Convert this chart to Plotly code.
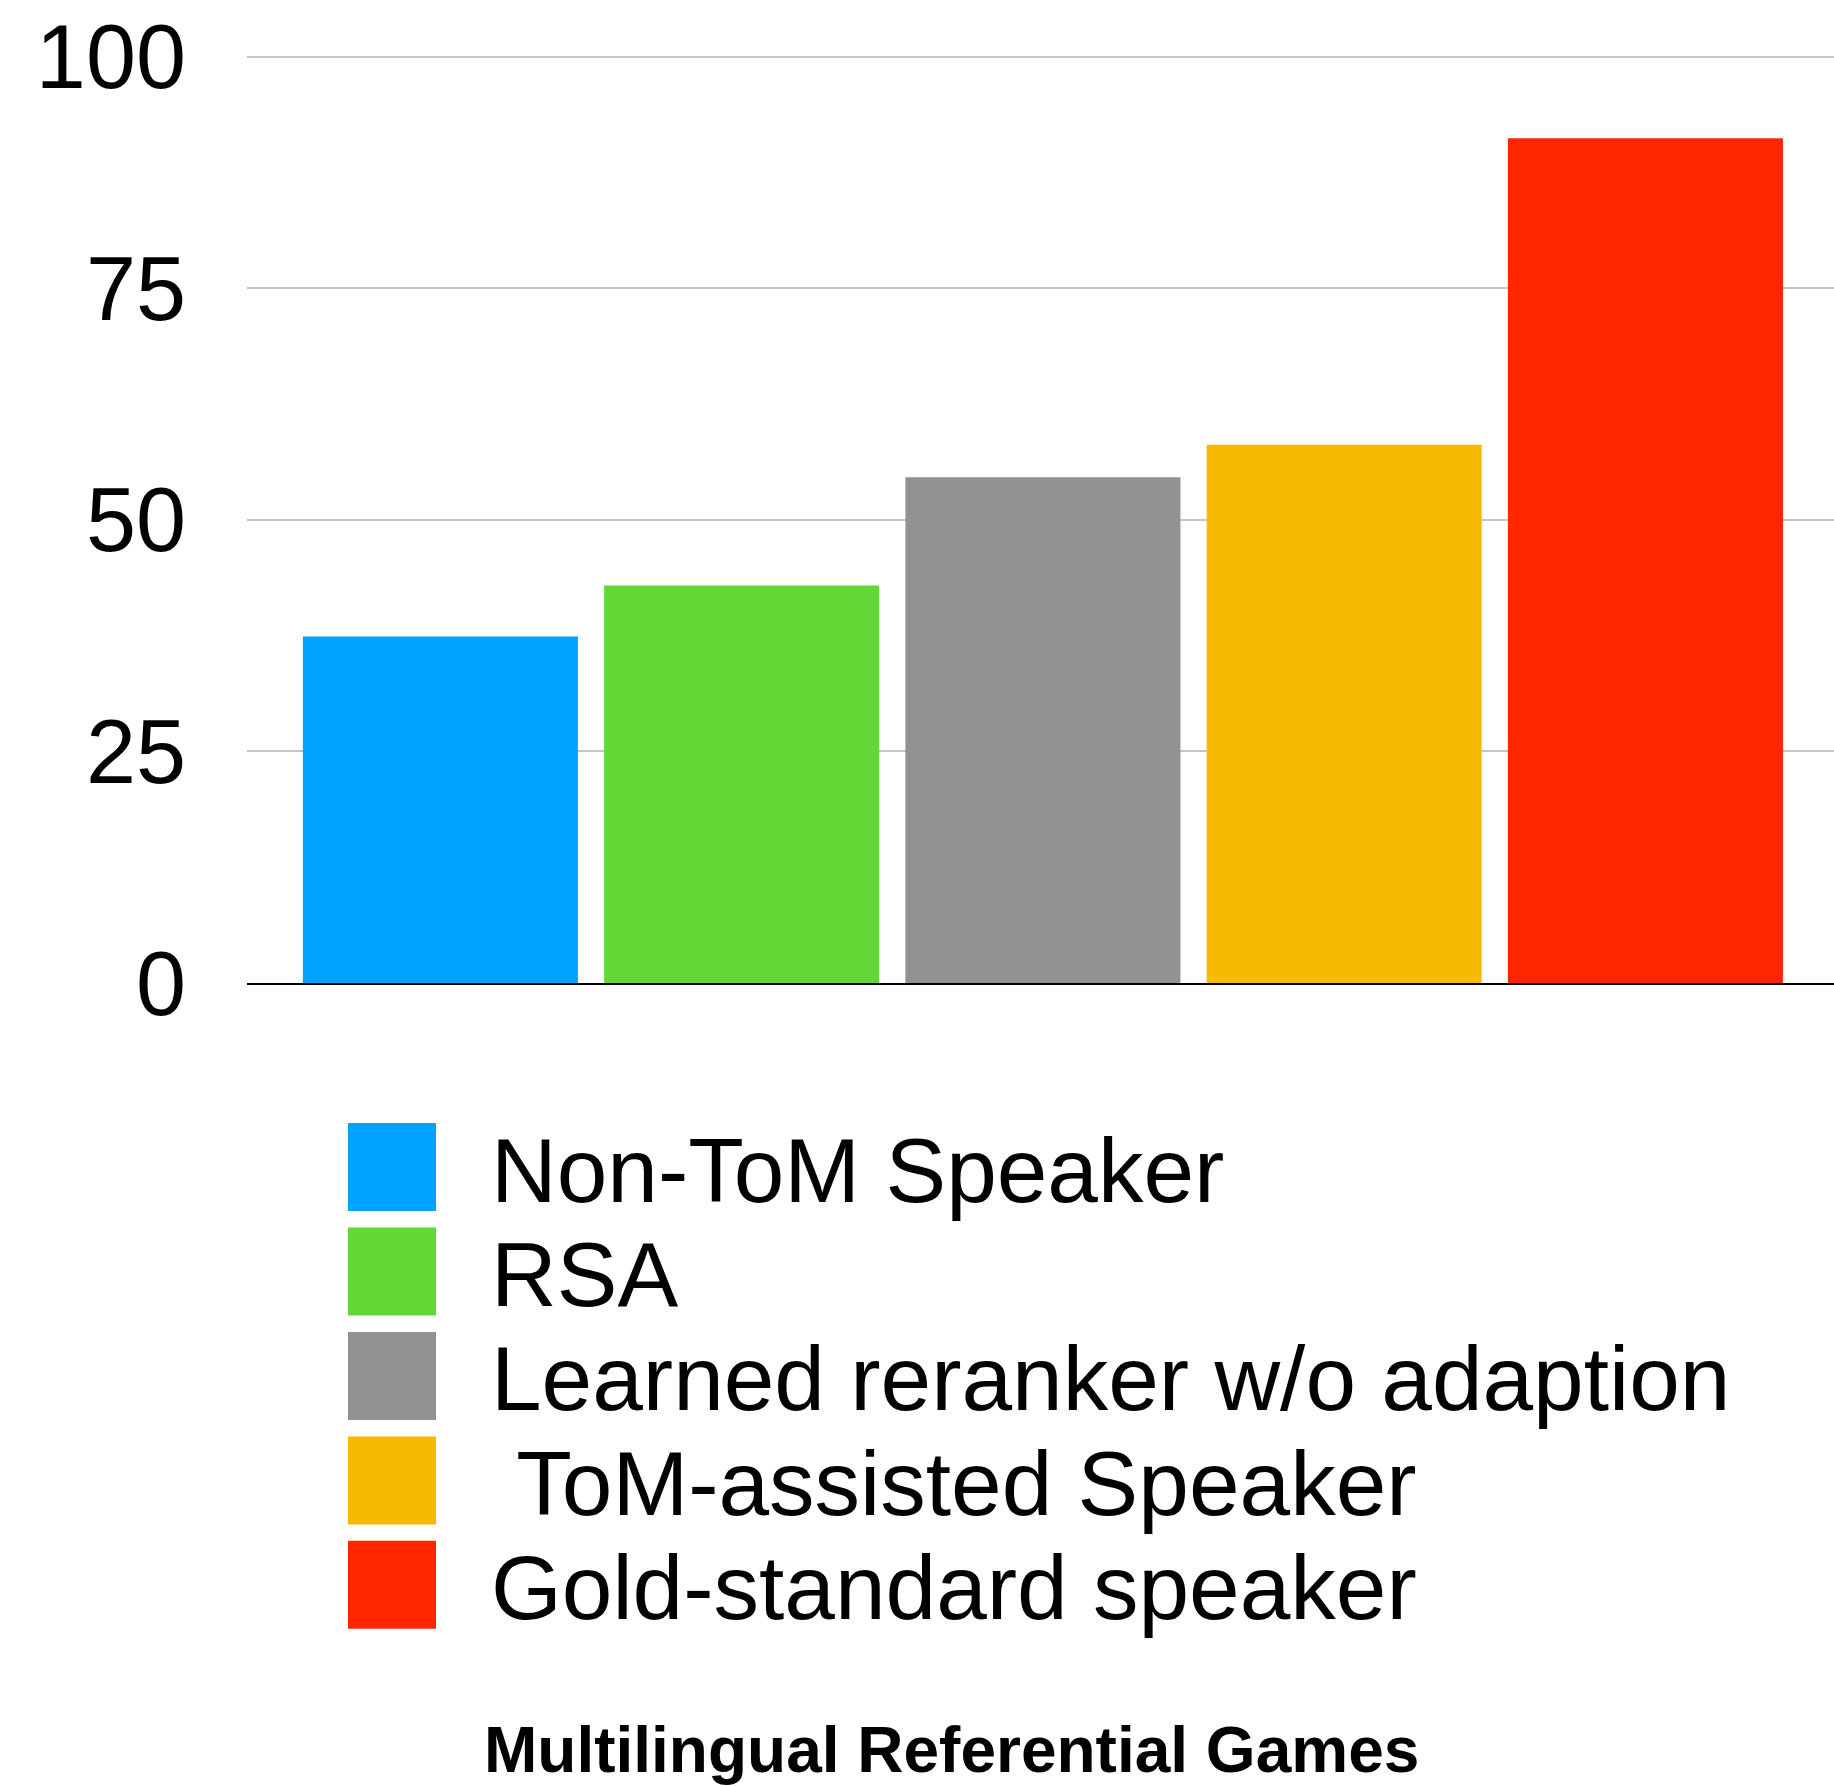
import plotly.graph_objects as go

# Accuracy (%) of each speaker on the multilingual referential games
speakers = [
    "Non-ToM Speaker",
    "RSA",
    "Learned reranker w/o adaption",
    "\u00a0ToM-assisted Speaker",
    "Gold-standard speaker",
]
accuracy = [37.4, 42.9, 54.6, 58.1, 91.2]
colors = ["#00A2FF", "#61D836", "#929292", "#F8BA00", "#FF2600"]
y_ticks = [0, 25, 50, 75, 100]
group_label = "Multilingual Referential Games"

W, H = 1834, 1786
Y_MAX = 100.5
# plot area in pixels (value 0 sits at B, value 100 near y=57)
L, R, B = 247, 1834, 983
UNIT = (B - 57) / 100.0
T = B - UNIT * Y_MAX

def fx(px):
    return (px - L) / (R - L)

def fy(py):
    return (B - py) / (B - T)

FONT = "Liberation Sans, Arial, Helvetica, sans-serif"

fig = go.Figure()
for name, val, col in zip(speakers, accuracy, colors):
    fig.add_trace(go.Bar(
        x=[name], y=[val], name=name,
        marker=dict(color=col, line=dict(width=0)),
        width=0.913, showlegend=False,
    ))

# custom legend with large swatches
sw_left, sw_size, row0, row_step, text_left = 348, 88, 1167, 104.4, 489
for i, (name, col) in enumerate(zip(speakers, colors)):
    cy = row0 + i * row_step
    fig.add_shape(type="rect", xref="paper", yref="paper",
                  x0=fx(sw_left), x1=fx(sw_left + sw_size),
                  y0=fy(cy + sw_size / 2), y1=fy(cy - sw_size / 2),
                  fillcolor=col, line=dict(width=0))
    fig.add_annotation(xref="paper", yref="paper", x=fx(text_left), y=fy(cy + 3),
                       xanchor="left", yanchor="middle", text=name, showarrow=False,
                       font=dict(family=FONT, size=91, color="black"))

fig.add_annotation(xref="paper", yref="paper", x=fx(951), y=fy(1750),
                   xanchor="center", yanchor="middle",
                   text="<b>" + group_label + "</b>", showarrow=False,
                   font=dict(family=FONT, size=64, color="black"))

fig.update_layout(
    width=W, height=H,
    margin=dict(l=L, r=W - R, t=T, b=H - B),
    paper_bgcolor="white", plot_bgcolor="white",
    barmode="overlay",
    font=dict(family=FONT, color="black"),
    xaxis=dict(type="category", range=[-0.642, 4.626], showticklabels=False,
               showgrid=False, showline=True, linecolor="black", linewidth=2,
               zeroline=False, ticks=""),
    yaxis=dict(range=[0, Y_MAX], tickvals=y_ticks, showgrid=True,
               gridcolor="#C4C4C4", gridwidth=2, zeroline=False, showline=False,
               tickfont=dict(family=FONT, size=90, color="black"),
               ticklabelstandoff=60, ticks=""),
)

fig.write_html("out.html")
